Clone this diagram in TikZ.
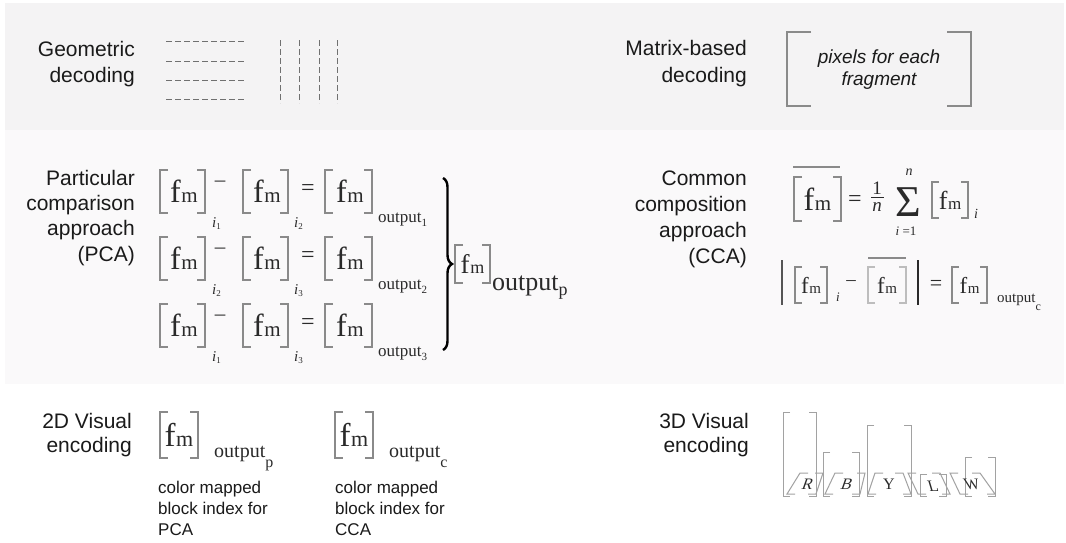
\documentclass[tikz,border=0pt]{standalone}
\usepackage{fontspec}
\setmainfont{Liberation Sans}
\newfontfamily\tms{Liberation Serif}
\usetikzlibrary{decorations.pathreplacing}
\definecolor{bandA}{HTML}{F4F3F4}
\definecolor{bandB}{HTML}{FAF9FA}
\definecolor{brkgray}{HTML}{8A8A8A}
\definecolor{lightbrk}{HTML}{BDBDBD}
\definecolor{dashgray}{HTML}{707070}
\definecolor{gray3}{HTML}{A2A2A2}
\definecolor{txt}{HTML}{1A1A1A}
\definecolor{mtxt}{HTML}{2A2A2A}
\newcommand\FM[2]{{\tms\fontsize{#1}{#1}\selectfont f\kern0.6pt\fontsize{#2}{#2}\selectfont m}}
\newcommand\Isub[1]{{\tms\itshape\fontsize{15}{15}\selectfont i}\raisebox{-2.5pt}{\tms\fontsize{9}{9}\selectfont #1}}
\newcommand\Out[4]{{\tms\fontsize{#1}{#1}\selectfont output}\raisebox{#3}{\tms\fontsize{#2}{#2}\selectfont #4}}
% bracket pair: [tick]{name}{L}{R}{top}{bottom}
\newcommand\Brk[6][8]{%
  \draw[brk] (#3+#1,#5) -- (#3,#5) -- (#3,#6) -- (#3+#1,#6);
  \draw[brk] (#4-#1,#5) -- (#4,#5) -- (#4,#6) -- (#4-#1,#6);
  \coordinate (#2) at ({(#3+#4)/2},{(#5+#6)/2});}
\begin{document}
\begin{tikzpicture}[x=1pt,y=-1pt,
  brk/.style={draw=brkgray, line width=1.2pt},
  lab/.style={font=\fontsize{21}{25}\selectfont, anchor=base east, inner sep=0pt, text=txt},
  note/.style={font=\fontsize{17}{20}\selectfont, anchor=base west, inner sep=0pt, text=txt},
  fmn/.style={inner sep=0pt, text=mtxt},
  sub/.style={inner sep=0pt, anchor=base west, text=mtxt},
  op/.style={inner sep=0pt, text=mtxt, font=\tms\fontsize{24}{24}\selectfont},
  dsh/.style={draw=dashgray, line width=1pt, dash pattern=on 6pt off 3pt},
  bar3/.style={draw=gray3, line width=1pt}]
\useasboundingbox (0,0) rectangle (1066,542);
\fill[white] (0,0) rectangle (1066,542);
\fill[bandA] (5,3) rectangle (1064,130);
\fill[bandB] (5,130) rectangle (1064,384);

% ---------- labels
\node[lab] (g1) at (135,56) {Geometric};
\node[lab] (g2) at (135,82) {decoding};
\node[lab] (m1) at (747,55) {Matrix-based};
\node[lab] (m2) at (747,82) {decoding};
\node[lab] (p1) at (135,185) {Particular};
\node[lab] (p2) at (135,210) {comparison};
\node[lab] (p3) at (135,235) {approach};
\node[lab] (p4) at (135,261) {(PCA)};
\node[lab] (c1) at (747,185) {Common};
\node[lab] (c2) at (747,211) {composition};
\node[lab] (c3) at (747,237) {approach};
\node[lab] (c4) at (747,263) {(CCA)};
\node[lab] (v1) at (132,428) {2D Visual};
\node[lab] (v2) at (132,452) {encoding};
\node[lab] (w1) at (749,428) {3D Visual};
\node[lab] (w2) at (749,452) {encoding};

% ---------- geometric decoding
\foreach \yy in {41,61,80,99} \draw[dsh] (166,\yy) -- (244,\yy);
\foreach \xx in {280,299,319,337} \draw[dsh] (\xx,40) -- (\xx,103);

% ---------- matrix-based decoding
\Brk[24]{mx}{787}{971}{32}{106}
\node[inner sep=0pt, anchor=base, font=\itshape\fontsize{19}{22}\selectfont, text=txt] (mxa) at (879,63) {pixels for each};
\node[inner sep=0pt, anchor=base, font=\itshape\fontsize{19}{22}\selectfont, text=txt] (mxb) at (879,85) {fragment};

% ---------- PCA
\foreach \r/\dy/\a/\b in {1/0/1/2,2/67/2/3,3/134/1/3}{
  \Brk{pa\r}{160}{205}{170+\dy}{213+\dy}
  \node[fmn] (fa\r) at (184,191+\dy) {\FM{32}{21}};
  \node[sub] (sa\r) at (212,227+\dy) {\Isub{\a}};
  \node[op, font=\tms\fontsize{21}{21}\selectfont] (mi\r) at (220,184+\dy) {–};
  \Brk{pb\r}{243}{288}{170+\dy}{213+\dy}
  \node[fmn] (fb\r) at (267,191+\dy) {\FM{32}{21}};
  \node[sub] (sb\r) at (294,227+\dy) {\Isub{\b}};
  \node[op] (eq\r) at (308,190+\dy) {=};
  \Brk{pc\r}{325}{372}{170+\dy}{213+\dy}
  \node[fmn] (fc\r) at (350,191+\dy) {\FM{32}{21}};
  \node[sub] (oc\r) at (378,222+\dy) {\Out{17}{11}{-4pt}{\r}};
}
\coordinate (brT) at (443,178);
\coordinate (brB) at (443,350);
\draw[decorate, decoration={brace, amplitude=9pt}, line width=2.4pt, draw=black] (brT) -- (brB);
\Brk{pp}{455}{490}{245}{283}
\node[fmn] (fpp) at (pp) {\FM{27}{18}};
\node[sub] (opp) at (492,290) {\Out{26}{18}{-5pt}{p}};

% ---------- CCA equation 1
\Brk{ca}{794}{841}{177}{221}
\coordinate (olaL) at (793,167); \coordinate (olaR) at (840,167);
\draw[draw=brkgray, line width=1.2pt] (olaL) -- (olaR);
\node[fmn] (fca) at (ca) {\FM{32}{21}};
\node[op] (ceq) at (855,201) {=};
\node[fmn, font=\tms\fontsize{19}{19}\selectfont] (one) at (877,188) {1};
\coordinate (frL) at (871,197); \coordinate (frR) at (884,197);
\draw[line width=0.8pt, draw=mtxt] (frL) -- (frR);
\node[fmn, font=\tms\itshape\fontsize{19}{19}\selectfont] (nn) at (877,207) {n};
\node[fmn, font=\tms\fontsize{44}{44}\selectfont] (sig) at (908,202) {Σ};
\node[fmn, font=\tms\itshape\fontsize{14}{14}\selectfont] (sigt) at (909,172) {n};
\node[fmn, font=\tms\fontsize{13}{13}\selectfont] (sigb) at (906,231) {\textit{i} =1};
\Brk[7]{cb}{932}{968}{182}{218}
\node[fmn] (fcb) at (cb) {\FM{26}{17}};
\node[sub, font=\tms\itshape\fontsize{14}{14}\selectfont] (cbi) at (974,218) {i};

% ---------- CCA equation 2
\coordinate (abL1) at (782,260); \coordinate (abL2) at (782,305);
\coordinate (abR1) at (918,260); \coordinate (abR2) at (918,305);
\draw[draw=mtxt!80, line width=1.2pt] (abL1) -- (abL2);
\draw[draw=mtxt, line width=1.2pt] (abR1) -- (abR2);
\Brk[7]{da}{795}{827}{267}{303}
\node[fmn] (fda) at (da) {\FM{23}{15}};
\node[sub, font=\tms\itshape\fontsize{13}{13}\selectfont] (dai) at (836,301) {i};
\node[op, font=\tms\fontsize{19}{19}\selectfont] (dmi) at (851,283) {–};
\begin{scope}[brk/.style={draw=lightbrk, line width=1.2pt}]
\Brk[7]{db}{868}{906}{267}{303}
\end{scope}
\coordinate (olbL) at (868,258); \coordinate (olbR) at (906,258);
\draw[draw=brkgray, line width=1.2pt] (olbL) -- (olbR);
\node[fmn] (fdb) at (db) {\FM{23}{15}};
\node[op, font=\tms\fontsize{22}{22}\selectfont] (deq) at (936,285) {=};
\Brk[7]{dc}{952}{987}{267}{303}
\node[fmn] (fdc) at (dc) {\FM{23}{15}};
\node[sub] (odc) at (997,302) {\Out{15}{12}{-8pt}{c}};

% ---------- 2D visual encoding
\Brk{ep}{160}{198}{412}{458}
\node[fmn] (fep) at (ep) {\FM{33}{22}};
\node[sub] (oep) at (214,457) {\Out{20}{16}{-10pt}{p}};
\node[note] (np1) at (158,493) {color mapped};
\node[note] (np2) at (158,514) {block index for};
\node[note] (np3) at (158,535) {PCA};
\Brk{ec}{335}{373}{412}{458}
\node[fmn] (fec) at (ec) {\FM{33}{22}};
\node[sub] (oec) at (389,457) {\Out{20}{16}{-10pt}{c}};
\node[note] (nc1) at (335,493) {color mapped};
\node[note] (nc2) at (335,514) {block index for};
\node[note] (nc3) at (335,535) {CCA};

% ---------- 3D visual encoding
\foreach \l/\rr/\t in {783/816/412, 823/859/452, 867/911/425, 920/946/474, 965/995/457}{
  \draw[bar3] (\l+7,\t) -- (\l,\t) -- (\l,496) -- (\l+7,496);
  \draw[bar3] (\rr-7,\t) -- (\rr,\t) -- (\rr,496) -- (\rr-7,496);
}
\foreach \bl/\fl/\br/\fr in {800/787/823/816, 835/825/865/860, 875/868/903/911, 908/918/940/950, 950/960/980/995}{
  \draw[bar3] (\bl+8,473) -- (\bl,473) -- (\fl,494) -- (\fl+8,494);
  \draw[bar3] (\br-8,473) -- (\br,473) -- (\fr,494) -- (\fr-8,494);
}
\foreach \nm/\xx/\yy/\sl/\lt in {lr/808/484/0.35/R, lb/847/484/0.35/B, ly/889/484/0/Y, ll/933/486/-0.3/L, lw/972/484/-0.3/W}{
  \begin{scope}[shift={(\xx,\yy)}]
    \node[fmn, xslant=\sl, transform shape, font=\tms\fontsize{16}{16}\selectfont] (\nm) at (0,0) {\lt};
  \end{scope}
}
\end{tikzpicture}
\end{document}
